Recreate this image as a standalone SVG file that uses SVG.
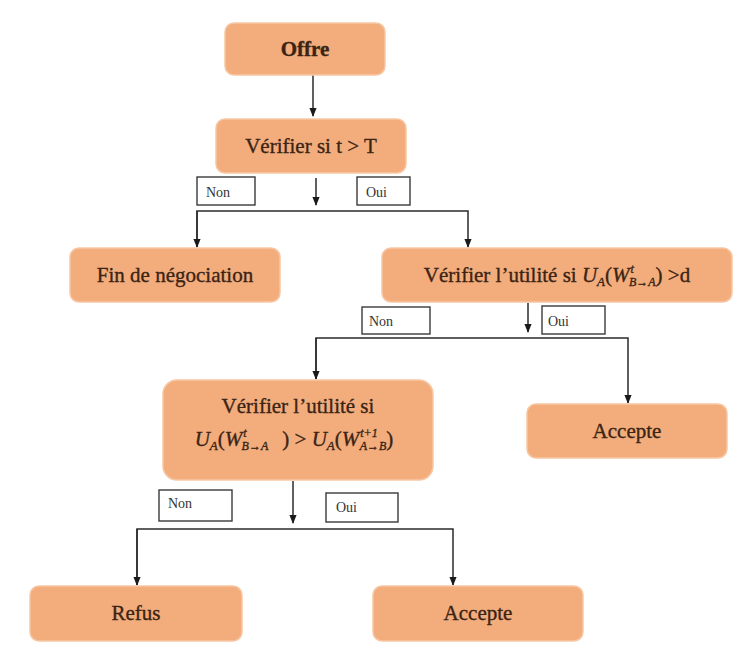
<svg xmlns="http://www.w3.org/2000/svg" width="741" height="659" viewBox="0 0 741 659">
  <style>
    .node { fill: #F3AD7D; stroke: #F7C7A4; stroke-width: 1.5; }
    .lbl { font-family: "Liberation Serif", "DejaVu Serif", serif; font-size: 21px; fill: #3B2414; stroke: #3B2414; stroke-width: 0.35; text-anchor: middle; }
    .it { font-style: italic; }
    .tag { fill: #ffffff; stroke: #3a3a3a; stroke-width: 1.4; }
    .tagtxt { font-family: "Liberation Serif", "DejaVu Serif", serif; font-size: 14px; fill: #333333; }
    .wire { fill: none; stroke: #2b2b2b; stroke-width: 1.5; }
  </style>
  <defs>
    <marker id="arrow" viewBox="0 0 10 10" refX="9" refY="5" markerWidth="6" markerHeight="6" orient="auto">
      <path d="M0,1 L10,5 L0,9 z" fill="#1a1a1a"/>
    </marker>
  </defs>
  <rect x="0" y="0" width="741" height="659" fill="#ffffff"/>

  <!-- connectors -->
  <g id="connectors">
    <path class="wire" d="M313,75 L313,116" marker-end="url(#arrow)"/>
    <path class="wire" d="M316,178 L316,205" marker-end="url(#arrow)"/>
    <path class="wire" d="M197,247 L197,211 L468,211 L468,247" marker-end="url(#arrow)"/>
    <path class="wire" d="M197,211 L197,247" marker-end="url(#arrow)"/>
    <path class="wire" d="M528,303 L528,332" marker-end="url(#arrow)"/>
    <path class="wire" d="M316,379 L316,338 L628,338 L628,403" marker-end="url(#arrow)"/>
    <path class="wire" d="M316,338 L316,379" marker-end="url(#arrow)"/>
    <path class="wire" d="M293,481 L293,523" marker-end="url(#arrow)"/>
    <path class="wire" d="M137,585 L137,529 L453,529 L453,585" marker-end="url(#arrow)"/>
    <path class="wire" d="M137,529 L137,585" marker-end="url(#arrow)"/>
  </g>

  <!-- branch tags -->
  <g id="tags">
    <rect class="tag" x="197" y="177" width="58" height="28"/>
    <text class="tagtxt" x="206" y="197">Non</text>
    <rect class="tag" x="357" y="177" width="53" height="28"/>
    <text class="tagtxt" x="366" y="197">Oui</text>

    <rect class="tag" x="362" y="307" width="68" height="27"/>
    <text class="tagtxt" x="369" y="326">Non</text>
    <rect class="tag" x="542" y="306" width="63" height="28"/>
    <text class="tagtxt" x="548" y="326">Oui</text>

    <rect class="tag" x="159" y="490" width="73" height="31"/>
    <text class="tagtxt" x="168" y="508">Non</text>
    <rect class="tag" x="326" y="493" width="72" height="29"/>
    <text class="tagtxt" x="336" y="512">Oui</text>
  </g>

  <g id="offre">
    <rect class="node" x="225" y="23" width="160" height="52" rx="9"/>
    <text class="lbl" x="305" y="56" font-weight="bold" font-size="19">Offre</text>
  </g>

  <g id="verif-temps">
    <rect class="node" x="216" y="119" width="190" height="54" rx="9"/>
    <text class="lbl" x="311" y="153">Vérifier si t &gt; T</text>
  </g>

  <g id="fin">
    <rect class="node" x="70" y="248" width="210" height="54" rx="9"/>
    <text class="lbl" x="175" y="282">Fin de négociation</text>
  </g>

  <g id="verif-utilite">
    <rect class="node" x="382" y="248" width="350" height="54" rx="9"/>
    <text class="lbl" x="557" y="282">Vérifier l’utilité si <tspan class="it">U</tspan><tspan class="it" font-size="13" dy="4">A</tspan><tspan dy="-4">(</tspan><tspan class="it">W</tspan><tspan class="it" font-size="12" dx="1" dy="-9">t</tspan><tspan class="it" font-size="12" dx="-5" dy="13">B→A</tspan><tspan dy="-4">) &gt;d</tspan></text>
  </g>

  <g id="comparaison">
    <rect class="node" x="163" y="380" width="270" height="100" rx="14"/>
    <text class="lbl" x="298" y="413">Vérifier l’utilité si</text>
    <text class="lbl" x="294" y="446" font-size="22"><tspan class="it">U</tspan><tspan class="it" font-size="13" dy="4">A</tspan><tspan dy="-4">(</tspan><tspan class="it">W</tspan><tspan class="it" font-size="12" dx="1" dy="-9">t</tspan><tspan class="it" font-size="12" dx="-5" dy="13">B→A</tspan><tspan dx="14" dy="-4">) &gt; </tspan><tspan class="it">U</tspan><tspan class="it" font-size="13" dy="4">A</tspan><tspan dy="-4">(</tspan><tspan class="it">W</tspan><tspan class="it" font-size="12" dx="1" dy="-9">t+1</tspan><tspan class="it" font-size="12" dx="-18" dy="13">A→B</tspan><tspan dy="-4">)</tspan></text>
  </g>

  <g id="accepte-1">
    <rect class="node" x="527" y="404" width="200" height="54" rx="9"/>
    <text class="lbl" x="627" y="438">Accepte</text>
  </g>

  <g id="refus">
    <rect class="node" x="30" y="586" width="212" height="55" rx="9"/>
    <text class="lbl" x="136" y="620">Refus</text>
  </g>

  <g id="accepte-2">
    <rect class="node" x="373" y="586" width="210" height="55" rx="9"/>
    <text class="lbl" x="478" y="620">Accepte</text>
  </g>
</svg>
